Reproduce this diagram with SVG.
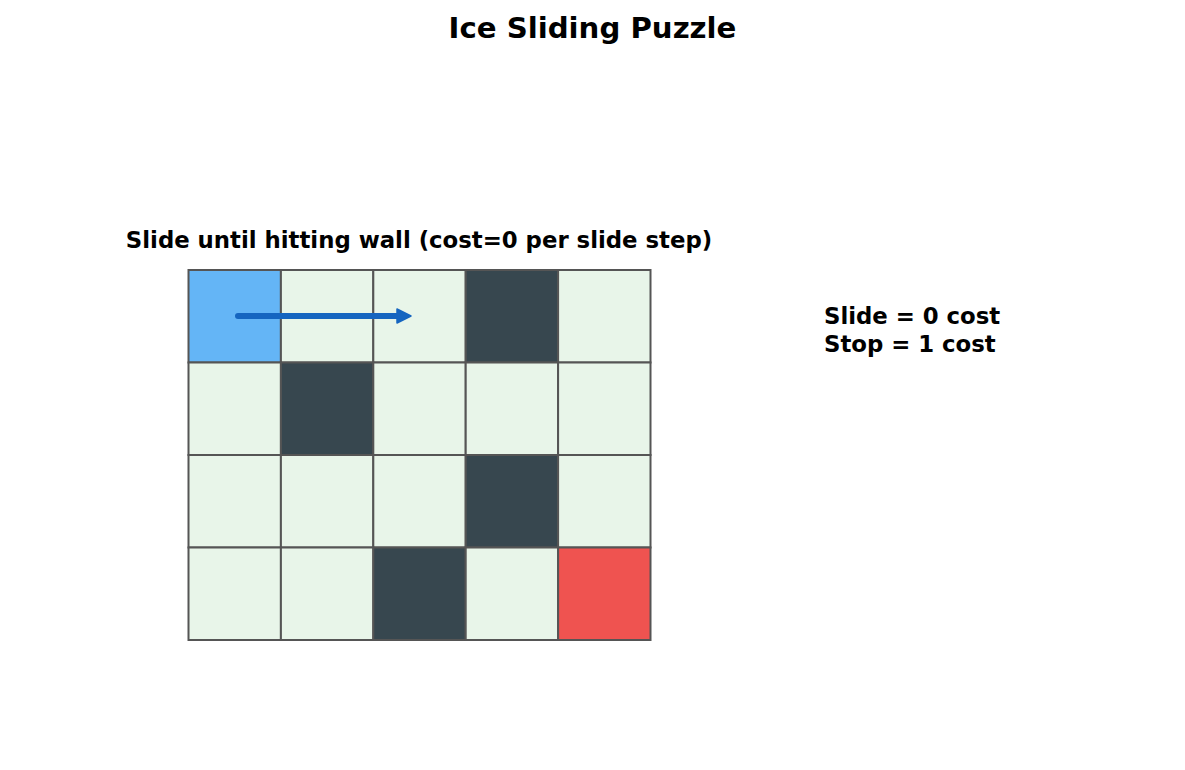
<svg xmlns="http://www.w3.org/2000/svg" width="1185" height="770" viewBox="0 0 1185 770">
<style>
text{font-family:"DejaVu Sans",sans-serif;font-weight:bold;fill:#000}
.c{stroke:#555555;stroke-width:2}
.ice{fill:#E8F5E9}
.wall{fill:#37474F}
</style>
<defs>
<marker id="ah" markerWidth="16" markerHeight="16" refX="3" refY="7" orient="auto" markerUnits="userSpaceOnUse" overflow="visible">
<path d="M0,0 L14,7 L0,14 Z" fill="#1565C0" stroke="#1565C0" stroke-width="1.5" stroke-linejoin="round"/>
</marker>
</defs>
<rect width="1185" height="770" fill="#fff"/>
<text x="592.5" y="38" font-size="29.2" text-anchor="middle">Ice Sliding Puzzle</text>
<text x="419" y="247.5" font-size="22.8" text-anchor="middle">Slide until hitting wall (cost=0 per slide step)</text>
<g id="grid">
<g id="r0">
<rect id="c00" class="c" x="188.5" y="270" width="92.4" height="92.5" fill="#64B5F6"/>
<rect id="c01" class="c ice" x="280.9" y="270" width="92.4" height="92.5"/>
<rect id="c02" class="c ice" x="373.3" y="270" width="92.4" height="92.5"/>
<rect id="c03" class="c wall" x="465.7" y="270" width="92.4" height="92.5"/>
<rect id="c04" class="c ice" x="558.1" y="270" width="92.4" height="92.5"/>
</g>
<g id="r1">
<rect id="c10" class="c ice" x="188.5" y="362.5" width="92.4" height="92.5"/>
<rect id="c11" class="c wall" x="280.9" y="362.5" width="92.4" height="92.5"/>
<rect id="c12" class="c ice" x="373.3" y="362.5" width="92.4" height="92.5"/>
<rect id="c13" class="c ice" x="465.7" y="362.5" width="92.4" height="92.5"/>
<rect id="c14" class="c ice" x="558.1" y="362.5" width="92.4" height="92.5"/>
</g>
<g id="r2">
<rect id="c20" class="c ice" x="188.5" y="455" width="92.4" height="92.5"/>
<rect id="c21" class="c ice" x="280.9" y="455" width="92.4" height="92.5"/>
<rect id="c22" class="c ice" x="373.3" y="455" width="92.4" height="92.5"/>
<rect id="c23" class="c wall" x="465.7" y="455" width="92.4" height="92.5"/>
<rect id="c24" class="c ice" x="558.1" y="455" width="92.4" height="92.5"/>
</g>
<g id="r3">
<rect id="c30" class="c ice" x="188.5" y="547.5" width="92.4" height="92.5"/>
<rect id="c31" class="c ice" x="280.9" y="547.5" width="92.4" height="92.5"/>
<rect id="c32" class="c wall" x="373.3" y="547.5" width="92.4" height="92.5"/>
<rect id="c33" class="c ice" x="465.7" y="547.5" width="92.4" height="92.5"/>
<rect id="c34" class="c" x="558.1" y="547.5" width="92.4" height="92.5" fill="#EF5350"/>
</g>
</g>
<g id="connectors">
<line x1="238" y1="316" x2="400" y2="316" stroke="#1565C0" stroke-width="6" stroke-linecap="round" marker-end="url(#ah)"/>
</g>
<g id="legend">
<text x="824" y="324" font-size="22.8">Slide = 0 cost</text>
<text x="824" y="351.5" font-size="22.8">Stop = 1 cost</text>
</g>
</svg>
